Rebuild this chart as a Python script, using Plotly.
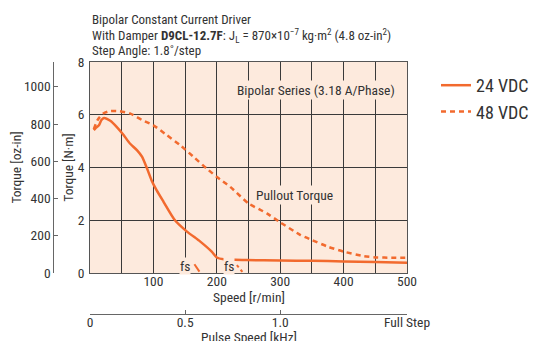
import plotly.graph_objects as go

# ---- data ----
speed_24 = [6, 10, 14, 18, 22, 32, 42, 53, 63, 74, 82, 90, 97, 105, 116, 134, 153, 174, 192, 200, 211, 247, 300, 350, 400, 450, 500]
torque_24 = [5.42, 5.52, 5.6, 5.8, 5.88, 5.77, 5.54, 5.23, 4.91, 4.66, 4.41, 3.96, 3.52, 3.14, 2.70, 2.0, 1.57, 1.19, 0.81, 0.59, 0.52, 0.49, 0.47, 0.46, 0.44, 0.42, 0.39]
speed_48 = [6, 12, 21, 32, 45, 63, 82, 100, 121, 142, 163, 184, 205, 221, 250, 279, 300, 332, 350, 375, 400, 432, 453, 475, 500]
torque_48 = [5.45, 5.8, 6.05, 6.14, 6.14, 6.05, 5.8, 5.6, 5.23, 4.85, 4.41, 3.96, 3.55, 3.27, 2.64, 2.26, 1.92, 1.44, 1.25, 1.0, 0.81, 0.64, 0.59, 0.58, 0.58]
fs_24_speed = [164.7, 172.6]
fs_24_torque = [0.33, 0.05]
fs_48_speed = [231.6, 240.4]
fs_48_torque = [0.30, 0.04]
nm_ticks = [0, 2, 4, 6, 8]
ozin_ticks = [0, 200, 400, 600, 800, 1000]
speed_ticks = [0, 50, 100, 150, 200, 250, 300, 350, 400, 450, 500]
speed_labels = ["", "", "100", "", "200", "", "300", "", "400", "", "500"]
pulse_ticks = [0, 0.5, 1.0, 500 / 300]
pulse_labels = ["0", "0.5", "1.0", "Full Step"]
NM_TO_OZIN = 141.612

ORANGE = "#f26a2e"
BG = "#fdeadd"
TXT = "#333333"
FONT = "Liberation Sans Narrow, Arial Narrow, Roboto Condensed, Roboto, sans-serif"

W, H = 540, 341
OFF = 8  # page body margin offset
PL, PR, PT, PB = 90, 407, 62, 273  # plot area in screen px


def px_x(v):
    return (v - OFF) / W


def px_y(v):
    return (H - (v - OFF)) / H


fig = go.Figure()
fig.add_trace(go.Scatter(x=speed_24, y=torque_24, mode="lines", name="24 VDC",
                         line=dict(color=ORANGE, width=2.5, shape="spline", smoothing=0.6)))
fig.add_trace(go.Scatter(x=speed_48, y=torque_48, mode="lines", name="48 VDC",
                         line=dict(color=ORANGE, width=2.5, dash="5px,4px", shape="spline", smoothing=0.6)))
fig.add_trace(go.Scatter(x=fs_24_speed, y=fs_24_torque, mode="lines", showlegend=False,
                         line=dict(color=ORANGE, width=2)))
fig.add_trace(go.Scatter(x=fs_48_speed, y=fs_48_torque, mode="lines", showlegend=False,
                         line=dict(color=ORANGE, width=2, dash="3px,3px")))
fig.add_trace(go.Scatter(x=[0], y=[0], xaxis="x2", yaxis="y2", mode="markers",
                         marker=dict(opacity=0), showlegend=False, hoverinfo="skip"))

fig.update_layout(
    width=W, height=H,
    margin=dict(l=0, r=0, t=0, b=0, autoexpand=False),
    paper_bgcolor="white",
    plot_bgcolor=BG,
    font=dict(family=FONT, color=TXT, size=13),
    xaxis=dict(domain=[px_x(PL), px_x(PR)], range=[0, 500], tickvals=speed_ticks, ticktext=speed_labels,
               showgrid=True, gridcolor="#3a3a3a", gridwidth=1, zeroline=False,
               showline=True, linecolor="#555", mirror=True, ticks="",
               tickfont=dict(size=13.5), ticklabelstandoff=-4,
               anchor="y", automargin=False),
    yaxis=dict(domain=[px_y(PB), px_y(PT)], range=[0, 8], tickvals=nm_ticks,
               showgrid=True, gridcolor="#3a3a3a", gridwidth=1, zeroline=False,
               showline=True, linecolor="#555", mirror=True, ticks="",
               tickfont=dict(size=13.5), ticklabelstandoff=2,
               title=dict(text="Torque [N·m]", font=dict(size=13.5), standoff=0),
               anchor="x", automargin=False),
    xaxis2=dict(overlaying="x", anchor="free", position=px_y(314.3),
                range=[0, 500 / 300], tickvals=pulse_ticks, ticktext=pulse_labels,
                showgrid=False, zeroline=False, showline=True, linecolor="#666", linewidth=1,
                ticks="inside", ticklen=4, tickcolor="#666", side="bottom",
                tickfont=dict(size=13.5), ticklabelstandoff=-5, automargin=False),
    yaxis2=dict(overlaying="y", anchor="free", position=px_x(53.3), side="left",
                range=[0, 8 * NM_TO_OZIN], tickvals=ozin_ticks,
                showgrid=False, zeroline=False, showline=True, linecolor="#666", linewidth=1,
                ticks="inside", ticklen=4, tickcolor="#666",
                tickfont=dict(size=13.5), automargin=False,
                title=dict(text="Torque [oz-in]", font=dict(size=13.5), standoff=6)),
    legend=dict(x=px_x(534), y=px_y(67), xanchor="right", yanchor="top",
                font=dict(size=18), bgcolor="rgba(0,0,0,0)", tracegroupgap=0,
                itemwidth=30, borderwidth=0),
    showlegend=True,
)

annotations = [
    dict(x=357, y=6.93, xref="x", yref="y", text="Bipolar Series (3.18 A/Phase)",
         showarrow=False, bgcolor=BG, font=dict(size=13.5), borderpad=1),
    dict(x=322, y=2.95, xref="x", yref="y", text="Pullout Torque",
         showarrow=False, bgcolor=BG, font=dict(size=13.5), borderpad=1),
    dict(x=150, y=0.27, xref="x", yref="y", text="fs",
         showarrow=False, bgcolor=BG, font=dict(size=13.5), borderpad=0),
    dict(x=219, y=0.27, xref="x", yref="y", text="fs",
         showarrow=False, bgcolor=BG, font=dict(size=13.5), borderpad=0),
    dict(x=0.5, y=px_y(297), xref="x domain", yref="paper", xanchor="center", yanchor="middle",
         text="Speed [r/min]", showarrow=False, font=dict(size=13.5)),
    dict(x=0.5, y=px_y(337), xref="x domain", yref="paper", xanchor="center", yanchor="middle",
         text="Pulse Speed [kHz]", showarrow=False, font=dict(size=13.5)),
    dict(x=px_x(PL), y=px_y(20), xref="paper", yref="paper", xanchor="left", yanchor="middle",
         text="Bipolar Constant Current Driver", showarrow=False, font=dict(size=13)),
    dict(x=px_x(PL), y=px_y(36), xref="paper", yref="paper", xanchor="left", yanchor="middle",
         text="With Damper <b>D9CL-12.7F</b>: J<sub>L</sub> = 870×10<sup>−7</sup> kg·m<sup>2</sup> (4.8 oz-in<sup>2</sup>)",
         showarrow=False, font=dict(size=13)),
    dict(x=px_x(PL), y=px_y(50), xref="paper", yref="paper", xanchor="left", yanchor="middle",
         text="Step Angle: 1.8˚/step", showarrow=False, font=dict(size=13)),
]
fig.update_layout(annotations=annotations)

fig.write_html("out.html")
